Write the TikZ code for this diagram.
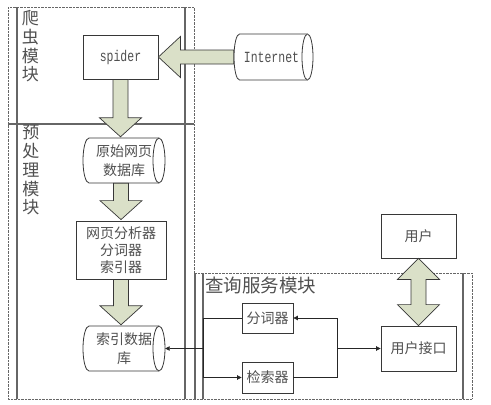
\documentclass[tikz,border=0pt]{standalone}
\usepackage{fontspec}
\setmainfont{Noto Sans CJK SC}
\newfontfamily\latfont[FakeStretch=0.74]{Liberation Mono}
\usetikzlibrary{arrows.meta,calc}
\definecolor{arrowfill}{RGB}{218,224,200}
\definecolor{linec}{RGB}{55,55,55}
\definecolor{txt}{RGB}{80,80,80}
\newcommand\drawcyl[5]{%
  \pgfmathsetmacro\cxa{#1-#3/2}\pgfmathsetmacro\cxb{#1+#3/2}%
  \pgfmathsetmacro\cya{#2+#4/2}\pgfmathsetmacro\cyb{#2-#4/2}%
  \draw[cyl] (\cxa+#5,\cya) -- (\cxb-#5,\cya) arc[start angle=90,end angle=-90,x radius=#5,y radius=#4/2]
    -- (\cxa+#5,\cyb) arc[start angle=270,end angle=90,x radius=#5,y radius=#4/2] -- cycle;
  \draw[cyl] (\cxb-#5,\cya) arc[start angle=90,end angle=270,x radius=#5,y radius=#4/2];
}
\newcommand\vblock[3]{% top node, bottom node, node giving x
  \draw[blockarrow] ($(#3.center |- #1.south)+(-7.5,0)$) -- ($(#3.center |- #2.north)+(-7.5,20)$)
    -- ($(#3.center |- #2.north)+(-21,20)$) -- ($(#3.center |- #2.north)+(0,1)$)
    -- ($(#3.center |- #2.north)+(21,20)$) -- ($(#3.center |- #2.north)+(7.5,20)$)
    -- ($(#3.center |- #1.south)+(7.5,0)$) -- cycle;
}
\begin{document}
\begin{tikzpicture}[x=1pt,y=1pt,
  box/.style={draw=linec, line width=0.8pt, fill=white, inner sep=0pt, text=txt,
    font=\fontsize{14}{17}\selectfont, align=center},
  cylnode/.style={inner sep=0pt, text=txt, font=\fontsize{14}{19}\selectfont, align=center},
  cyl/.style={draw=linec, line width=0.8pt, fill=white},
  blockarrow/.style={draw=linec, line width=0.7pt, fill=arrowfill},
  conn/.style={draw=black!85, line width=0.7pt},
  arr/.style={conn, -{Triangle[length=4.5pt,width=4.5pt]}},
  panel/.style={draw=black!60, line width=0.8pt, dash pattern=on 0.7pt off 0.7pt},
  lane/.style={draw=black!60, line width=1.1pt},
  lanelabel/.style={text=txt, font=\fontsize{17}{18.8}\selectfont, align=center, inner sep=0pt, anchor=north},
  latin/.style={font=\latfont\fontsize{15.5}{17}\selectfont}
]
\useasboundingbox (0,0) rectangle (491,-405);
% panels
\draw[panel] (8,-7) rectangle (194,-399);
\draw[lane] (17,-7) -- (17,-399);
\draw[lane] (185,-7) -- (185,-399);
\draw[lane] (8,-124) -- (194,-124);
\draw[panel] (194,-273) rectangle (472,-399);
\draw[lane] (195,-273) -- (195,-399);
\draw[lane] (203,-273) -- (203,-399);
\draw[lane] (463,-273) -- (463,-399);
\node[lanelabel] (lbl1) at (30.5,-10) {爬\\虫\\模\\块};
\node[lanelabel] (lbl2) at (31,-125) {预\\处\\理\\模\\块};
\node[text=txt, font=\fontsize{18.5}{20}\selectfont, anchor=west, inner sep=0pt] (lbl3) at (205,-285.5) {查询服务模块};
% nodes
\node[box, minimum width=75, minimum height=44, latin] (spider) at (120.5,-57) {spider};
\drawcyl{273.5}{-57}{79}{46}{5.5}
\node[cylnode, minimum width=79, minimum height=46, latin] (inet) at (271.5,-57) {Internet};
\drawcyl{124}{-160.5}{82}{45}{6}
\node[cylnode, minimum width=82, minimum height=45] (raw) at (124,-160.5) {原始网页\\数据库};
\node[box, minimum width=90, minimum height=58] (ana) at (121,-250) {网页分析器\\分词器\\索引器};
\drawcyl{124}{-348.5}{82}{45}{6}
\node[cylnode, minimum width=82, minimum height=45] (idx) at (124,-348.5) {索引数据\\库};
\node[box, minimum width=51, minimum height=30] (fc) at (267.5,-318) {分词器};
\node[box, minimum width=51, minimum height=31] (jc) at (267.5,-377.5) {检索器};
\node[box, minimum width=75, minimum height=45] (ui) at (418.5,-348.5) {用户接口};
\node[box, minimum width=75, minimum height=44] (user) at (418.5,-236) {用户};
% block arrows
\draw[blockarrow] (spider.east) -- ++(22,20.5) -- ++(0,-13.5) -- ([xshift=2,yshift=7]inet.west)
  -- ([xshift=2,yshift=-7]inet.west) -- ([xshift=22,yshift=-7]spider.east) -- ++(0,-13.5) -- cycle;
\vblock{spider}{raw}{spider}
\vblock{raw}{ana}{ana}
\vblock{ana}{idx}{ana}
\draw[blockarrow] (user.south) -- ++(21,-21) -- ++(-13.5,0) -- ($(ui.north)+(7.5,21)$)
  -- ($(ui.north)+(21,21)$) -- (ui.north) -- ($(ui.north)+(-21,21)$) -- ($(ui.north)+(-7.5,21)$)
  -- ($(user.south)+(-7.5,-21)$) -- ($(user.south)+(-21,-21)$) -- cycle;
% connectors
\coordinate (lbus) at (203,-348.5);
\coordinate (rbus) at (337,-348.5);
\draw[arr] (fc.west) -- (fc.west -| lbus) -- (jc.west -| lbus) -- (jc.west);
\draw[arr] (lbus) -- (idx.east);
\draw[arr] (jc.east) -- (jc.east -| rbus) -- (fc.east -| rbus) -- (fc.east);
\draw[arr] (rbus) -- (ui.west);
\end{tikzpicture}
\end{document}
